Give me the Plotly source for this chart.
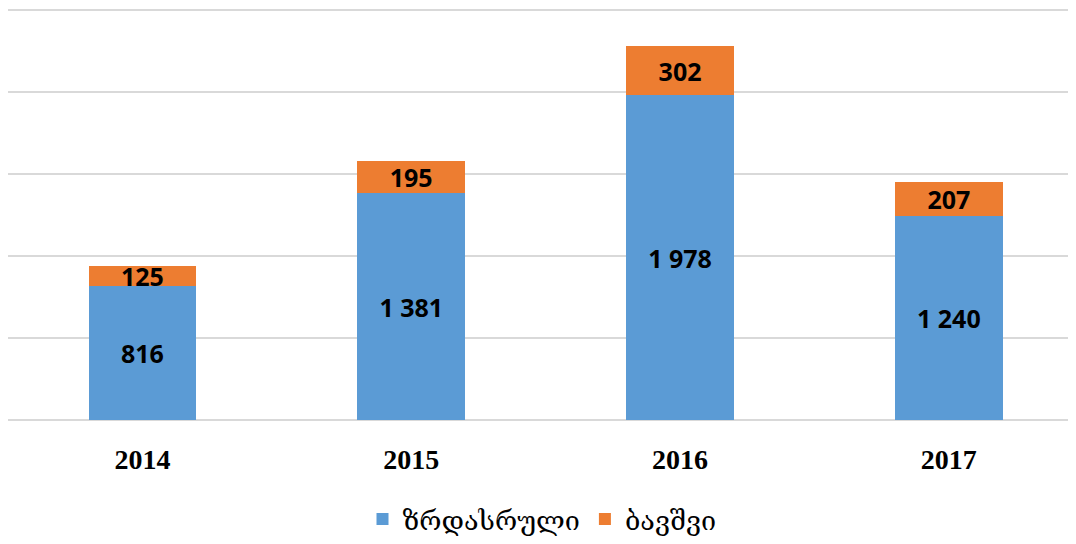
import plotly.graph_objects as go

years = ["2014", "2015", "2016", "2017"]
adults = [816, 1381, 1978, 1240]
children = [125, 195, 302, 207]
series_names = ["ზრდასრული", "ბავშვი"]
y_ticks = [0, 500, 1000, 1500, 2000, 2500]

def fmt(v):
    return f"{v:,}".replace(",", " ")

label_font = dict(family="Open Sans", size=25, color="black", weight="bold")

fig = go.Figure()
fig.add_trace(go.Bar(
    x=years, y=adults, name=series_names[0], marker_color="#5B9BD5",
    marker_line_width=0, width=0.4,
    text=[fmt(v) for v in adults], textposition="inside",
    insidetextanchor="middle", constraintext="none",
    textfont=label_font, hoverinfo="skip"))
fig.add_trace(go.Bar(
    x=years, y=children, name=series_names[1], marker_color="#ED7D31",
    marker_line_width=0, width=0.4,
    text=[fmt(v) for v in children], textposition="inside",
    insidetextanchor="middle", constraintext="none",
    textfont=label_font, hoverinfo="skip"))

fig.update_layout(
    barmode="stack",
    width=1068, height=536,
    margin=dict(l=0, r=0, t=0, b=122),
    paper_bgcolor="white", plot_bgcolor="white",
    showlegend=True,
    legend=dict(orientation="h", x=0.5, xanchor="center", y=-0.2415, yanchor="middle",
                font=dict(family="DejaVu Serif", size=27, color="black"),
                itemsizing="constant", traceorder="normal"),
)
fig.update_xaxes(
    range=[-0.5, 3.473], type="category", showgrid=False, showline=False,
    ticks="", tickfont=dict(family="Liberation Serif", size=28, color="black", weight="bold"),
    ticklabelstandoff=20)
fig.update_yaxes(
    range=[0, 2510], tickvals=y_ticks, showticklabels=False,
    showgrid=True, gridcolor="#D9D9D9", gridwidth=2, zeroline=True,
    zerolinecolor="#D9D9D9", zerolinewidth=2, showline=False)

fig.write_html("out.html")
